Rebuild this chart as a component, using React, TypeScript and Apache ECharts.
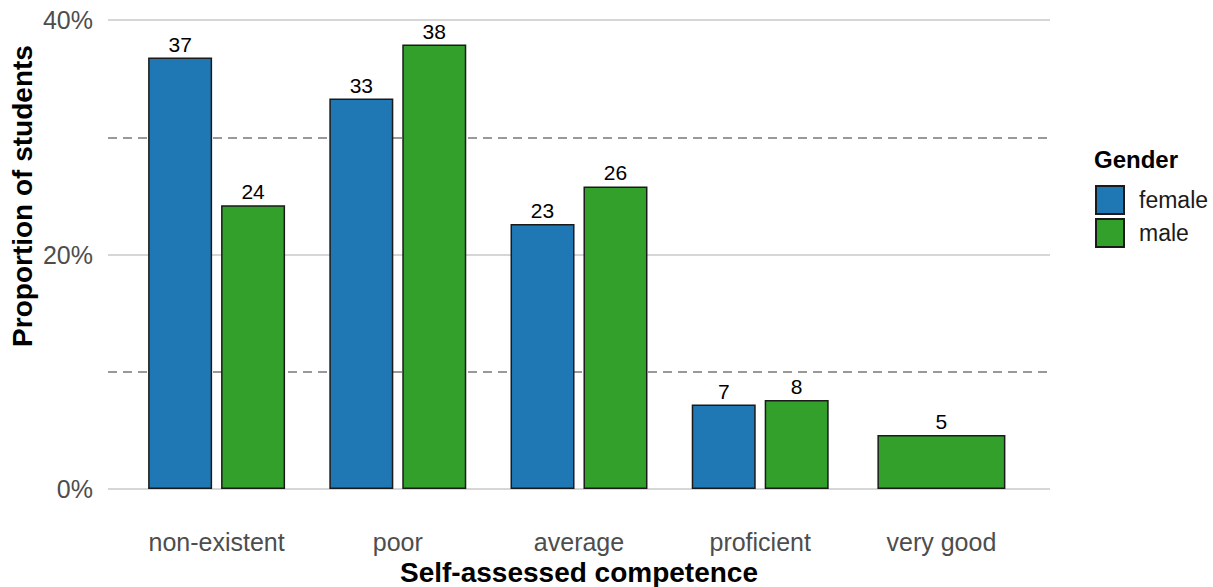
import React, { useEffect, useRef } from "react";
import * as echarts from "echarts";

const categories = ["non-existent", "poor", "average", "proficient", "very good"];
const femaleValues: (number | null)[] = [36.8, 33.3, 22.6, 7.2, null];
const maleValues: (number | null)[] = [24.2, 37.9, 25.8, 7.6, null];
const maleSoloValues: (number | null)[] = [null, null, null, null, 4.6];
const yTicks = [0, 20, 40];

const BLUE = "#1f78b4";
const GREEN = "#33a02c";
const FONT = "'Liberation Sans', Arial, Helvetica, sans-serif";

export default function App() {
  const ref = useRef<HTMLDivElement>(null);
  useEffect(() => {
    if (!ref.current) return;
    const chart = echarts.init(ref.current, null, { renderer: "svg" });
    const label = {
      show: true,
      position: "top",
      distance: 3,
      fontSize: 21,
      color: "#000",
      fontFamily: FONT,
      formatter: (p: any) => String(Math.round(p.value)),
    };
    const border = { borderColor: "#1a1a1a", borderWidth: 1.5 };
    chart.setOption({
      animation: false,
      textStyle: { fontFamily: FONT },
      title: {
        text: "Gender",
        left: 1094,
        top: 147,
        padding: 0,
        textStyle: { fontSize: 24, fontWeight: "bold", color: "#000", fontFamily: FONT },
      },
      legend: {
        data: ["female", "male"],
        orient: "vertical",
        left: 1095,
        top: 185,
        padding: 0,
        itemWidth: 28,
        itemHeight: 28,
        itemGap: 3,
        icon: "rect",
        textStyle: { fontSize: 23, color: "#1a1a1a", fontFamily: FONT, padding: [0, 0, 0, 10] },
      },
      graphic: [
        {
          type: "text",
          x: 22,
          y: 196,
          rotation: Math.PI / 2,
          style: {
            text: "Proportion of students",
            fontSize: 28,
            fontWeight: "bold",
            fill: "#000",
            fontFamily: FONT,
            align: "center",
            verticalAlign: "middle",
          },
        },
      ],
      grid: [
        { left: 108, top: 20, width: 942, height: 469, outerBoundsMode: "none", containLabel: false },
        { left: 126, top: 20, width: 906, height: 469, outerBoundsMode: "none", containLabel: false },
      ],
      xAxis: [
        { gridIndex: 0, type: "value", min: 0, max: 1, show: false },
        {
          gridIndex: 1,
          type: "category",
          data: categories,
          axisLine: { show: false },
          axisTick: { show: false },
          axisLabel: { fontSize: 25, color: "#4d4d4d", margin: 40, fontFamily: FONT },
          name: "Self-assessed competence",
          nameLocation: "middle",
          nameGap: 66,
          nameTextStyle: {
            fontSize: 28,
            fontWeight: "bold",
            color: "#000",
            fontFamily: FONT,
            verticalAlign: "top",
          },
        },
        { gridIndex: 1, type: "category", data: categories, show: false },
      ],
      yAxis: [
        {
          gridIndex: 0,
          type: "value",
          min: yTicks[0],
          max: yTicks[yTicks.length - 1],
          interval: yTicks[1] - yTicks[0],
          axisLine: { show: false },
          axisTick: { show: false },
          axisLabel: { fontSize: 25, color: "#4d4d4d", margin: 15, formatter: "{value}%", fontFamily: FONT },
          splitLine: { show: true, lineStyle: { color: "#d6d6d6", width: 2 } },
          minorTick: { show: false, splitNumber: 2 },
          minorSplitLine: { show: true, lineStyle: { color: "#999999", width: 2, type: [9, 6] } },
        },
        { gridIndex: 1, type: "value", min: 0, max: 40, show: false },
      ],
      series: [
        {
          name: "female",
          type: "bar",
          xAxisIndex: 1,
          yAxisIndex: 1,
          data: femaleValues,
          barWidth: 64,
          barGap: "14%",
          itemStyle: { color: BLUE, ...border },
          label,
        },
        {
          name: "male",
          type: "bar",
          xAxisIndex: 1,
          yAxisIndex: 1,
          data: maleValues,
          barWidth: 64,
          barGap: "14%",
          itemStyle: { color: GREEN, ...border },
          label,
        },
        {
          name: "male",
          type: "bar",
          xAxisIndex: 2,
          yAxisIndex: 1,
          data: maleSoloValues,
          barWidth: 128,
          itemStyle: { color: GREEN, ...border },
          label,
        },
      ],
    });
    return () => chart.dispose();
  }, []);
  return (
    <div
      ref={ref}
      style={{ position: "fixed", left: 0, top: 0, width: 1213, height: 587, background: "#fff" }}
    />
  );
}
